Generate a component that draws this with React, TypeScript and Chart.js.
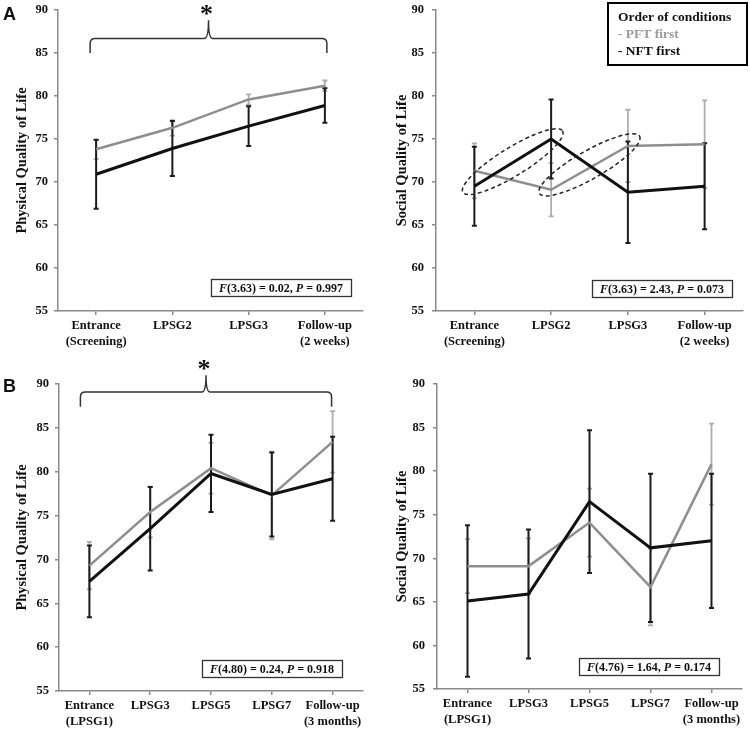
import React, { useEffect, useRef } from "react";
import { Chart, registerables } from "chart.js";

Chart.register(...registerables);

const SERIF = '"Liberation Serif", "Times New Roman", Times, serif';
const SANS = '"Liberation Sans", Arial, sans-serif';

// ---------- categories & ticks ----------
const catsA = [["Entrance", "(Screening)"], "LPSG2", "LPSG3", ["Follow-up", "(2 weeks)"]];
const catsB = [["Entrance", "(LPSG1)"], "LPSG3", "LPSG5", "LPSG7", ["Follow-up", "(3 months)"]];
const yTickValues = [55, 60, 65, 70, 75, 80, 85, 90];

// ---------- Panel A : physical ----------
const aPhysPFT = [73.8, 76.3, 79.6, 81.2];
const aPhysPFTErr = [1.1, 0.9, 0.6, 0.6];
const aPhysNFT = [70.9, 73.9, 76.5, 78.9];
const aPhysNFTErr = [4.0, 3.2, 2.3, 2.0];
// ---------- Panel A : social ----------
const aSocPFT = [71.3, 69.1, 74.2, 74.4];
const aSocPFTErr = [3.2, 3.1, 4.2, 5.1];
const aSocNFT = [69.5, 75.0, 68.8, 69.5];
const aSocNFTErr = [4.6, 4.6, 5.9, 5.0];
// ---------- Panel B : physical ----------
const bPhysPFT = [69.3, 75.4, 80.4, 77.3, 83.4];
const bPhysPFTErr = [2.7, 2.9, 2.9, 5.0, 3.5];
const bPhysNFT = [67.5, 73.5, 79.8, 77.4, 79.2];
const bPhysNFTErr = [4.1, 4.75, 4.4, 4.8, 4.8];
// ---------- Panel B : social ----------
const bSocPFT = [69.1, 69.1, 74.1, 66.7, 80.8];
const bSocPFTErr = [3.1, 3.2, 3.9, 4.4, 4.65];
const bSocNFT = [65.1, 65.9, 76.5, 71.2, 72.0];
const bSocNFTErr = [8.7, 7.4, 8.2, 8.5, 7.7];

// ---------- texts ----------
const seriesPFT = "PFT first";
const seriesNFT = "NFT first";
const legendTitle = "Order of conditions";
const statAPhys = ["3.63", "0.02", "0.997"];
const statASoc = ["3.63", "2.43", "0.073"];
const statBPhys = ["4.80", "0.24", "0.918"];
const statBSoc = ["4.76", "1.64", "0.174"];

const BLACK = "#111111";
const GRAY = "#8e8e8e";
const AXIS = "#8a8a8a";

const errorBarPlugin = {
  id: "errbars",
  beforeDatasetsDraw(chart: any) {
    const ctx = chart.ctx;
    const x = chart.scales.x;
    const y = chart.scales.y;
    const ds = chart.data.datasets;
    for (let d = ds.length - 1; d >= 0; d--) {
      const set: any = ds[d];
      if (!set.errors) continue;
      ctx.save();
      ctx.strokeStyle = set.errColor;
      ctx.lineWidth = set.errWidth;
      set.data.forEach((v: number, i: number) => {
        const e = set.errors[i];
        const px = x.getPixelForValue(i);
        const t = y.getPixelForValue(v + e);
        const b = y.getPixelForValue(v - e);
        ctx.beginPath();
        ctx.moveTo(px, t);
        ctx.lineTo(px, b);
        ctx.moveTo(px - 2.5, t);
        ctx.lineTo(px + 2.5, t);
        ctx.moveTo(px - 2.5, b);
        ctx.lineTo(px + 2.5, b);
        ctx.stroke();
      });
      ctx.restore();
    }
  },
};

function drawStatBox(chart: any, stat: string[], rightOff: number, bottomOff: number) {
  const ctx = chart.ctx;
  const ca = chart.chartArea;
  const fN = `bold 12px ${SERIF}`;
  const fI = `italic bold 12px ${SERIF}`;
  const segs = [
    { t: "F", f: fI },
    { t: `(${stat[0]}) = ${stat[1]}, `, f: fN },
    { t: "P", f: fI },
    { t: ` = ${stat[2]}`, f: fN },
  ];
  ctx.save();
  let total = 0;
  segs.forEach((s) => {
    ctx.font = s.f;
    total += ctx.measureText(s.t).width;
  });
  const w = total + 16;
  const h = 17;
  const right = ca.right - rightOff;
  const bottom = ca.bottom - bottomOff;
  const left = right - w;
  const top = bottom - h;
  ctx.strokeStyle = "#333";
  ctx.lineWidth = 1.3;
  ctx.strokeRect(Math.round(left) + 0.5, Math.round(top) + 0.5, Math.round(w), h);
  ctx.fillStyle = BLACK;
  ctx.textBaseline = "middle";
  let cx = left + 8;
  segs.forEach((s) => {
    ctx.font = s.f;
    ctx.fillText(s.t, cx, top + h / 2 + 1);
    cx += ctx.measureText(s.t).width;
  });
  ctx.restore();
}

function drawBrace(ctx: any, x1: number, x2: number, yH: number, yEnd: number, xT: number, yT: number) {
  const r = 5;
  ctx.save();
  ctx.strokeStyle = "#333";
  ctx.lineWidth = 1.5;
  ctx.beginPath();
  ctx.moveTo(x1, yEnd);
  ctx.lineTo(x1, yH + r);
  ctx.quadraticCurveTo(x1, yH, x1 + r, yH);
  ctx.lineTo(xT - 4, yH);
  ctx.quadraticCurveTo(xT, yH, xT, yT);
  ctx.quadraticCurveTo(xT, yH, xT + 4, yH);
  ctx.lineTo(x2 - r, yH);
  ctx.quadraticCurveTo(x2, yH, x2, yH + r);
  ctx.lineTo(x2, yEnd);
  ctx.stroke();
  ctx.restore();
}

function drawStar(ctx: any, x: number, baseline: number) {
  ctx.save();
  ctx.font = `bold 26px ${SERIF}`;
  ctx.fillStyle = BLACK;
  ctx.textAlign = "center";
  ctx.textBaseline = "alphabetic";
  ctx.fillText("*", x, baseline + 2);
  ctx.restore();
}

function drawLetter(ctx: any, letter: string, x: number, baseline: number) {
  ctx.save();
  ctx.font = `bold 18px ${SANS}`;
  ctx.fillStyle = BLACK;
  ctx.textBaseline = "alphabetic";
  ctx.fillText(letter, x, baseline);
  ctx.restore();
}

function drawEllipseBetween(ctx: any, p1: any, p2: any, dy: number) {
  const cx = (p1.x + p2.x) / 2;
  const cy = (p1.y + p2.y) / 2 + dy;
  const ang = Math.atan2(p2.y - p1.y, p2.x - p1.x);
  const a = Math.hypot(p2.x - p1.x, p2.y - p1.y) / 2 + 13.5;
  ctx.save();
  ctx.strokeStyle = "#222";
  ctx.lineWidth = 1.5;
  ctx.setLineDash([4, 3]);
  ctx.beginPath();
  ctx.ellipse(cx, cy, a, 14, ang, 0, Math.PI * 2);
  ctx.stroke();
  ctx.restore();
}

function drawLegend(ctx: any) {
  ctx.save();
  ctx.strokeStyle = "#000";
  ctx.lineWidth = 2;
  ctx.strokeRect(233, 3, 139, 62);
  ctx.textBaseline = "middle";
  ctx.font = `bold 13.5px ${SERIF}`;
  ctx.fillStyle = BLACK;
  ctx.fillText(legendTitle, 243, 18);
  ctx.fillStyle = "#9a9a9a";
  ctx.fillText("- " + seriesPFT, 243, 35);
  ctx.fillStyle = BLACK;
  ctx.fillText("- " + seriesNFT, 243, 52);
  ctx.restore();
}

type PanelCfg = {
  left: number;
  top: number;
  w: number;
  h: number;
  padTop: number;
  padRight: number;
  yWidth: number;
  xHeight: number;
  titlePad: number;
  tickPad: number;
  yTitle: string;
  labels: any[];
  pft: number[];
  pftErr: number[];
  nft: number[];
  nftErr: number[];
  stat: string[];
  boxRight: number;
  boxBottom: number;
  extra: (chart: any) => void;
};

const panels: PanelCfg[] = [
  {
    left: 0, top: 0, w: 375, h: 365, padTop: 10, padRight: 12, yWidth: 58, xHeight: 54, titlePad: 14, tickPad: 6,
    yTitle: "Physical Quality of Life", labels: catsA,
    pft: aPhysPFT, pftErr: aPhysPFTErr, nft: aPhysNFT, nftErr: aPhysNFTErr,
    stat: statAPhys, boxRight: 12, boxBottom: 15,
    extra: (chart) => {
      const ctx = chart.ctx;
      const x = chart.scales.x;
      const y = chart.scales.y;
      const x1 = x.getPixelForValue(0) - 6;
      const x2 = x.getPixelForValue(3) + 2;
      const xt = (x1 + x2) / 2;
      const yt = y.getPixelForValue(88.8);
      drawBrace(ctx, x1, x2, y.getPixelForValue(86.7), y.getPixelForValue(85.0), xt, yt);
      drawStar(ctx, xt - 2, yt);
      drawLetter(ctx, "A", 3, 20);
    },
  },
  {
    left: 375, top: 0, w: 375, h: 365, padTop: 10, padRight: 7, yWidth: 61, xHeight: 54, titlePad: 19, tickPad: 8,
    yTitle: "Social Quality of Life", labels: catsA,
    pft: aSocPFT, pftErr: aSocPFTErr, nft: aSocNFT, nftErr: aSocNFTErr,
    stat: statASoc, boxRight: 11, boxBottom: 14,
    extra: (chart) => {
      const ctx = chart.ctx;
      const nftPts = chart.getDatasetMeta(0).data;
      const pftPts = chart.getDatasetMeta(1).data;
      drawEllipseBetween(ctx, nftPts[0], nftPts[1], -1);
      drawEllipseBetween(ctx, pftPts[1], pftPts[2], -3);
      drawLegend(ctx);
    },
  },
  {
    left: 0, top: 340, w: 375, h: 390, padTop: 44, padRight: 12, yWidth: 59, xHeight: 39, titlePad: 14, tickPad: 6,
    yTitle: "Physical Quality of Life", labels: catsB,
    pft: bPhysPFT, pftErr: bPhysPFTErr, nft: bPhysNFT, nftErr: bPhysNFTErr,
    stat: statBPhys, boxRight: 21, boxBottom: 14,
    extra: (chart) => {
      const ctx = chart.ctx;
      const x = chart.scales.x;
      const y = chart.scales.y;
      const x1 = x.getPixelForValue(0) - 9;
      const x2 = x.getPixelForValue(4) - 1;
      const xt = (x1 + x2) / 2;
      const yt = y.getPixelForValue(91.0);
      drawBrace(ctx, x1, x2, y.getPixelForValue(89.1), y.getPixelForValue(87.4), xt, yt);
      drawStar(ctx, xt - 2, yt);
      drawLetter(ctx, "B", 3, 52);
    },
  },
  {
    left: 375, top: 340, w: 375, h: 390, padTop: 44, padRight: 8, yWidth: 62, xHeight: 41, titlePad: 19, tickPad: 8,
    yTitle: "Social Quality of Life", labels: catsB,
    pft: bSocPFT, pftErr: bSocPFTErr, nft: bSocNFT, nftErr: bSocNFTErr,
    stat: statBSoc, boxRight: 23, boxBottom: 14,
    extra: () => {},
  },
];

function Panel({ cfg }: { cfg: PanelCfg }) {
  const ref = useRef<HTMLCanvasElement>(null);
  useEffect(() => {
    if (!ref.current) return;
    const tickFont = { family: SERIF, size: 12.5, weight: "bold" as const, lineHeight: 1.25 };
    const decoPlugin = {
      id: "deco",
      afterDraw(chart: any) {
        cfg.extra(chart);
        drawStatBox(chart, cfg.stat, cfg.boxRight, cfg.boxBottom);
      },
    };
    const chart = new Chart(ref.current, {
      type: "line",
      data: {
        labels: cfg.labels,
        datasets: [
          {
            label: seriesNFT,
            data: cfg.nft,
            errors: cfg.nftErr,
            errColor: "#1c1c1c",
            errWidth: 2,
            borderColor: BLACK,
            borderWidth: 3,
            pointRadius: 0,
            tension: 0,
            fill: false,
          } as any,
          {
            label: seriesPFT,
            data: cfg.pft,
            errors: cfg.pftErr,
            errColor: "#adadad",
            errWidth: 1.8,
            borderColor: GRAY,
            borderWidth: 2.5,
            pointRadius: 0,
            tension: 0,
            fill: false,
          } as any,
        ],
      },
      options: {
        responsive: false,
        animation: false,
        devicePixelRatio: 1,
        layout: { padding: { top: cfg.padTop, right: cfg.padRight, left: 0, bottom: 0 } },
        plugins: { legend: { display: false }, tooltip: { enabled: false } },
        scales: {
          x: {
            type: "category",
            offset: true,
            grid: { drawOnChartArea: false, tickLength: 4, color: AXIS, lineWidth: 1.5 },
            border: { color: AXIS, width: 1.5 },
            ticks: { font: tickFont, color: BLACK, padding: 3, maxRotation: 0, autoSkip: false },
            afterFit: (s: any) => {
              s.height = cfg.xHeight;
              s.paddingLeft = 0;
              s.paddingRight = 0;
            },
          },
          y: {
            type: "linear",
            min: 55,
            max: 90,
            afterBuildTicks: (s: any) => {
              s.ticks = yTickValues.map((v) => ({ value: v }));
            },
            grid: { drawOnChartArea: false, tickLength: 4, color: AXIS, lineWidth: 1.5 },
            border: { color: AXIS, width: 1.5 },
            ticks: { font: tickFont, color: BLACK, padding: cfg.tickPad },
            title: {
              display: true,
              text: cfg.yTitle,
              color: BLACK,
              font: { family: SERIF, size: 14.5, weight: "bold" },
              padding: { top: cfg.titlePad, bottom: 0 },
            },
            afterFit: (s: any) => {
              s.width = cfg.yWidth;
              s.paddingTop = 0;
              s.paddingBottom = 0;
            },
          },
        },
      } as any,
      plugins: [errorBarPlugin, decoPlugin],
    });
    return () => chart.destroy();
  }, []);
  return (
    <canvas
      ref={ref}
      width={cfg.w}
      height={cfg.h}
      style={{ position: "absolute", left: cfg.left, top: cfg.top, width: cfg.w, height: cfg.h }}
    />
  );
}

export default function App() {
  return (
    <div style={{ position: "absolute", left: 0, top: 0, width: 750, height: 730, background: "#fff", overflow: "hidden" }}>
      {panels.map((p, i) => (
        <Panel key={i} cfg={p} />
      ))}
    </div>
  );
}
